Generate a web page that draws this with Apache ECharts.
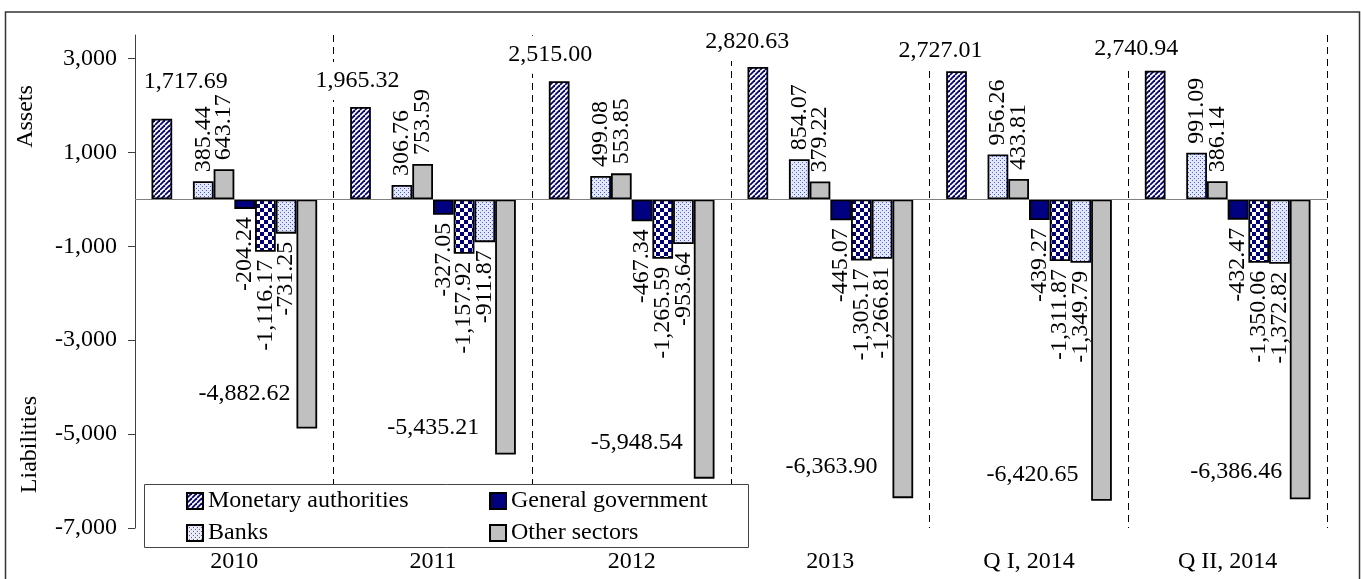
<!DOCTYPE html>
<html><head><meta charset="utf-8">
<script src="https://cdn.jsdelivr.net/npm/echarts@6/dist/echarts.min.js"></script>
<style>html,body{margin:0;padding:0;background:#fff}#c{width:1361px;height:579px}</style>
</head><body><div id="c"></div>
<script>
// ---- data ----
const categories = ['2010', '2011', '2012', '2013', 'Q I, 2014', 'Q II, 2014'];
const maAssets = [1717.69, 1965.32, 2515.00, 2820.63, 2727.01, 2740.94];
const gapSlot = [null, null, null, null, null, null];
const banksAssets = [385.44, 306.76, 499.08, 854.07, 956.26, 991.09];
const otherAssets = [643.17, 753.59, 553.85, 379.22, 433.81, 386.14];
const ggLiab = [-204.24, -327.05, -467.34, -445.07, -439.27, -432.47];
const checkLiab = [-1116.17, -1157.92, -1265.59, -1305.17, -1311.87, -1350.06];
const banksLiab = [-731.25, -911.87, -953.64, -1266.81, -1349.79, -1372.82];
const otherLiab = [-4882.62, -5435.21, -5948.54, -6363.90, -6420.65, -6386.46];
const yTicks = [-7000, -5000, -3000, -1000, 1000, 3000];
const legendLeft = ['Monetary authorities', 'Banks'];
const legendRight = ['General government', 'Other sectors'];

// label placement (style only)
const maLabelOffsets = [[24, -37], [-3, -26], [-9, -26.5], [-10.5, -25], [-16, -21], [-19, -21.5]];
const otherLiabLabelOffsets = [[-6, -34.5], [-16, -26.5], [-11, -36], [-15, -31], [-12.7, -26], [-7.6, -27.5]];

// ---- patterns ----
function pattern(w, h, draw) {
  const c = document.createElement('canvas');
  c.width = w; c.height = h;
  const ctx = c.getContext('2d');
  draw(ctx, w, h);
  return { image: c, repeat: 'repeat' };
}
const NAVY = '#000080';
const hatch = pattern(5, 5, (ctx, w, h) => {
  ctx.fillStyle = '#fff'; ctx.fillRect(0, 0, w, h);
  ctx.strokeStyle = NAVY; ctx.lineWidth = 1.8;
  for (const o of [-w, 0, w]) { ctx.beginPath(); ctx.moveTo(o, h); ctx.lineTo(o + w, 0); ctx.stroke(); }
});
const dots = pattern(4, 4, (ctx, w, h) => {
  ctx.fillStyle = '#e4e7fb'; ctx.fillRect(0, 0, w, h);
  ctx.fillStyle = '#4a5bd0'; ctx.fillRect(0, 0, 1, 1); ctx.fillRect(2, 2, 1, 1);
  ctx.fillStyle = '#ffffff'; ctx.fillRect(1, 0, 1, 1); ctx.fillRect(3, 2, 1, 1);
});
const checker = pattern(8, 8, (ctx, w, h) => {
  ctx.fillStyle = '#fff'; ctx.fillRect(0, 0, w, h);
  ctx.fillStyle = NAVY; ctx.fillRect(4, 0, 4, 4); ctx.fillRect(0, 4, 4, 4);
});

function fmt(v) {
  const s = Math.abs(v).toFixed(2);
  const parts = s.split('.');
  return (v < 0 ? '-' : '') + parts[0].replace(/\B(?=(\d{3})+(?!\d))/g, ',') + '.' + parts[1];
}
function fmtInt(v) {
  return (v < 0 ? '-' : '') + String(Math.abs(v)).replace(/\B(?=(\d{3})+(?!\d))/g, ',');
}

const FONT = 'Liberation Serif';
const border = { borderColor: '#000', borderWidth: 1.8 };
const barCommon = { type: 'bar', barGap: '0%', barCategoryGap: '16.6%' };
const upRot = { show: true, position: 'top', rotate: 90, align: 'left', verticalAlign: 'middle', distance: 9, fontSize: 24, fontFamily: FONT, color: '#000', formatter: p => fmt(p.value) };
const downRot = { show: true, position: 'bottom', rotate: 90, align: 'right', verticalAlign: 'middle', distance: 8, fontSize: 24, fontFamily: FONT, color: '#000', formatter: p => fmt(p.value) };
const legendCommon = { orient: 'vertical', top: 489, padding: 0, itemGap: 8, itemWidth: 16, itemHeight: 16, z: 6, icon: 'rect',
  textStyle: { fontSize: 24, fontFamily: FONT, color: '#000' }, selectedMode: false };

const chart = echarts.init(document.getElementById('c'), null, { renderer: 'canvas' });
chart.setOption({
  animation: false,
  backgroundColor: '#fff',
  textStyle: { fontFamily: FONT, color: '#000' },
  grid: { left: 135, right: 34, top: 35, bottom: 51 },
  legend: [
    Object.assign({ data: legendLeft, left: 186 }, legendCommon),
    Object.assign({ data: legendRight, left: 489 }, legendCommon)
  ],
  xAxis: {
    type: 'category', data: categories, position: 'bottom',
    axisLine: { show: false, onZero: false }, axisTick: { show: false },
    axisLabel: { fontSize: 24, fontFamily: FONT, color: '#000', margin: 22 },
    splitLine: { show: true, lineStyle: { color: '#000', width: 1, type: [7, 5] } }
  },
  yAxis: {
    type: 'value', min: -7000, max: 3500, interval: 2000,
    axisLine: { show: true, lineStyle: { color: '#404040', width: 1 } },
    axisTick: { show: true, length: 7, customValues: yTicks, lineStyle: { color: '#404040' } },
    axisLabel: { fontSize: 24, fontFamily: FONT, color: '#000', margin: 18, customValues: yTicks, formatter: v => fmtInt(v) },
    splitLine: { show: false }
  },
  graphic: [
    { type: 'rect', silent: true, z: 100, shape: { x: 5.5, y: 12, width: 1354, height: 620 }, style: { fill: 'none', stroke: '#333', lineWidth: 1.5 } },
    { type: 'rect', silent: true, z: 5, shape: { x: 144.5, y: 484.5, width: 604, height: 63 }, style: { fill: '#fff', stroke: '#444', lineWidth: 1 } },
    { type: 'text', silent: true, x: 25.5, y: 116.5, rotation: Math.PI / 2, style: { text: 'Assets', fontSize: 24, fontFamily: FONT, fill: '#000', align: 'center', verticalAlign: 'middle' } },
    { type: 'text', silent: true, x: 30, y: 444.5, rotation: Math.PI / 2, style: { text: 'Liabilities', fontSize: 24, fontFamily: FONT, fill: '#000', align: 'center', verticalAlign: 'middle' } }
  ],
  series: [
    Object.assign({}, barCommon, {
      name: 'Monetary authorities', itemStyle: Object.assign({ color: hatch }, border),
      data: maAssets.map((v, i) => ({ value: v, label: { offset: maLabelOffsets[i] } })),
      label: { show: true, position: 'top', distance: 0, verticalAlign: 'middle', fontSize: 24, fontFamily: FONT, color: '#000',
        backgroundColor: '#fff', padding: [2, 4, 12, 4], formatter: p => fmt(p.value) },
      markLine: { silent: true, symbol: 'none', label: { show: false }, lineStyle: { color: '#808080', width: 1, type: 'solid' }, data: [{ yAxis: 0 }], z: 3 }
    }),
    Object.assign({}, barCommon, { name: 'gap', data: gapSlot, itemStyle: { color: 'transparent' } }),
    Object.assign({}, barCommon, { name: 'Banks', data: banksAssets, itemStyle: Object.assign({ color: dots }, border), label: upRot }),
    Object.assign({}, barCommon, { name: 'Other sectors', data: otherAssets, itemStyle: Object.assign({ color: '#c0c0c0' }, border), label: upRot }),
    Object.assign({}, barCommon, { name: 'General government', data: ggLiab, itemStyle: Object.assign({ color: NAVY }, border), label: downRot }),
    Object.assign({}, barCommon, { name: 'Checkered liabilities', data: checkLiab, itemStyle: Object.assign({ color: checker }, border), label: downRot }),
    Object.assign({}, barCommon, { name: 'Banks', data: banksLiab, itemStyle: Object.assign({ color: dots }, border), label: downRot }),
    Object.assign({}, barCommon, {
      name: 'Other sectors', itemStyle: Object.assign({ color: '#c0c0c0' }, border),
      data: otherLiab.map((v, i) => ({ value: v, label: { offset: otherLiabLabelOffsets[i] } })),
      label: { show: true, position: ['0%', '100%'], align: 'right', verticalAlign: 'middle', fontSize: 24, fontFamily: FONT, color: '#000', formatter: p => fmt(p.value) }
    })
  ]
});
</script>
</body></html>
